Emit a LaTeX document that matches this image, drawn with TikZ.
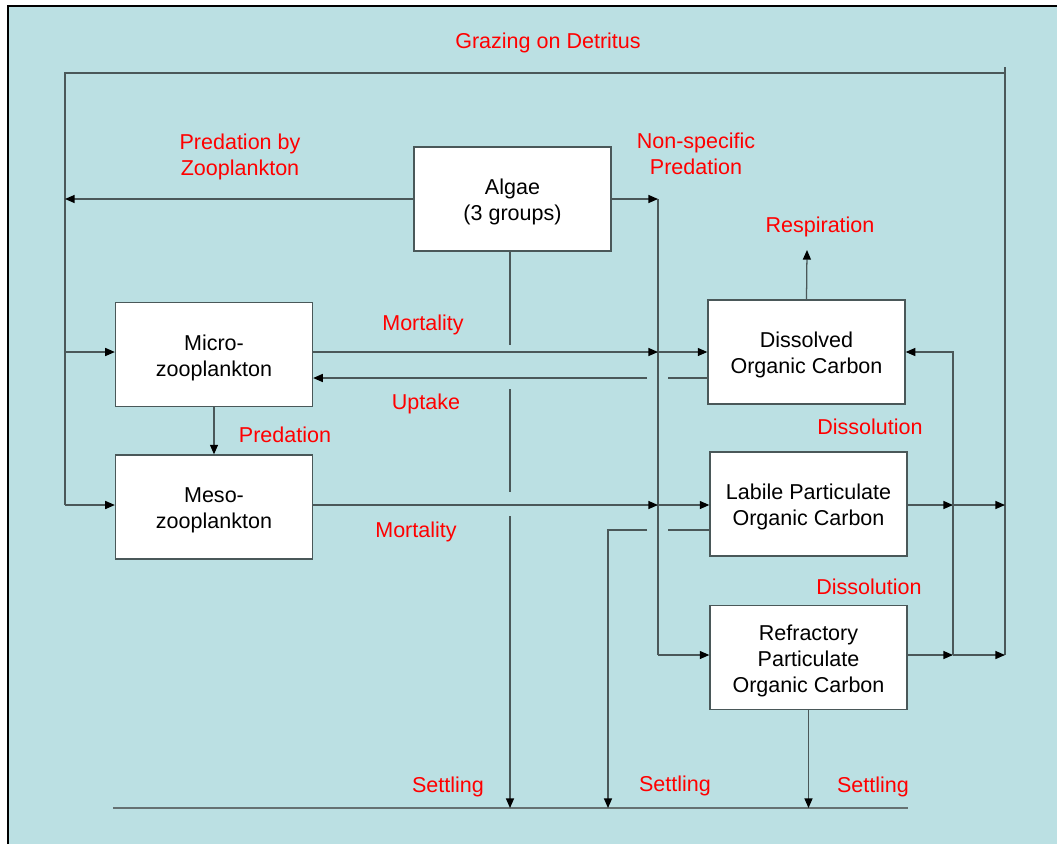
\documentclass[tikz,border=0pt]{standalone}
\usepackage{fontspec}
\setmainfont{Liberation Sans}
\usetikzlibrary{arrows.meta}

\definecolor{seablue}{HTML}{BBE0E3}
\definecolor{flowgray}{HTML}{4A5859}
\definecolor{ratered}{HTML}{FF0000}
\newcommand{\poolstrut}{\rule{0pt}{15.6pt}}

\begin{document}
\begin{tikzpicture}[x=0.025cm, y=-0.025cm,
  font=\fontsize{15.3}{18.4}\selectfont,
  >={Triangle[length=0.24cm,width=0.2cm,color=black]},
  pool/.style={draw=flowgray, fill=white, line width=0.9pt, align=center,
    minimum width=4.925cm, minimum height=2.6cm, inner sep=0pt},
  flow/.style={draw=flowgray, line width=0.9pt},
  rate/.style={text=ratered, align=center, inner sep=0pt, yshift=-2.1pt},
  bed/.style={draw=flowgray!85, line width=2pt}]
\useasboundingbox (0,0) rectangle (1057,844);
\fill[seablue] (8,6) rectangle (1057,844);
\draw[line width=1.6pt] (8,844) -- (8,6) -- (1057,6);

% pools
\node[pool] (algae) at (512.5,199) {\poolstrut Algae\\(3 groups)};
\node[pool] (micro) at (214,354.5) {\poolstrut Micro-\\zooplankton};
\node[pool] (meso) at (214,507) {\poolstrut Meso-\\zooplankton};
\node[pool] (doc) at (806.5,352) {\poolstrut Dissolved\\Organic Carbon};
\node[pool] (lpoc) at (808.5,504) {\poolstrut Labile Particulate\\Organic Carbon};
\node[pool] (rpoc) at (808.5,657.5) {\poolstrut Refractory\\Particulate\\Organic Carbon};

% junctions
\coordinate (gl) at (65,73);
\coordinate (gtop) at (1005,73);
\coordinate (gr) at (1005,67);
\coordinate (gbot) at (1005,655);
\coordinate (zm) at (65,352);
\coordinate (zl) at (65,505);
\coordinate (nsTop) at (658,199);
\coordinate (nsBot) at (658,655);
\coordinate (mm) at (658,352);
\coordinate (me) at (658,505);
\coordinate (upR) at (668,378);
\coordinate (upL) at (647,378);
\coordinate (lsR) at (668,530);
\coordinate (lsL) at (647,530);
\coordinate (lsC) at (608,530);
\coordinate (as1) at (510,345);
\coordinate (as2) at (510,389);
\coordinate (as3) at (510,492);
\coordinate (as4) at (510,516);
\coordinate (resp) at (807,250);
\coordinate (dl) at (953,505);
\coordinate (dr) at (953,655);
\coordinate (dt) at (953,352);
\coordinate (bedL) at (113,808);
\coordinate (bedR) at (908,808);

% grazing on detritus
\path[flow] (gbot) -- (gr);
\path[flow] (gtop) -- (gl) -- (zl);
\path[flow,->] (algae.west) -- (algae.west -| gl);
\path[flow,->] (zm) -- (zm -| micro.west);
\path[flow,->] (zl) -- (zl -| meso.west);
\path[flow,->] (micro.south) -- (meso.north);

% non-specific predation
\path[flow,->] (algae.east) -- (nsTop);
\path[flow] (nsTop) -- (nsBot);
\path[flow,->] (nsBot) -- (nsBot -| rpoc.west);

% mortality and uptake
\path[flow,->] (micro.east |- mm) -- (mm);
\path[flow,->] (mm) -- (mm -| doc.west);
\path[flow] (doc.west |- upR) -- (upR);
\path[flow,->] (upL) -- (upL -| micro.east);
\path[flow,->] (meso.east |- me) -- (me);
\path[flow,->] (me) -- (me -| lpoc.west);

% settling
\path[bed] (bedL) -- (bedR);
\path[flow] (as1 |- algae.south) -- (as1);
\path[flow] (as2) -- (as3);
\path[flow,->] (as4) -- (as4 |- bedL);
\path[flow] (lpoc.west |- lsR) -- (lsR);
\path[flow,->] (lsL) -- (lsC) -- (lsC |- bedL);
\path[flow,->] (rpoc.south) -- (rpoc.south |- bedL);

% respiration and dissolution
\path[flow,->] (doc.north) -- (resp);
\path[flow,->] (lpoc.east |- dl) -- (dl);
\path[flow,->] (dl) -- (dl -| gr);
\path[flow,->] (rpoc.east |- dr) -- (dr);
\path[flow,->] (dr) -- (gbot);
\path[flow,->] (dr) -- (dt) -- (dt -| doc.east);

% rates
\node[rate] (tgraze) at (548,40) {Grazing on Detritus};
\node[rate] (tpred) at (240,154) {Predation by\\Zooplankton};
\node[rate] (tnonspec) at (696,151) {Non-specific\\Predation};
\node[rate] (tresp) at (820,224) {Respiration};
\node[rate] (tmort1) at (423,322) {Mortality};
\node[rate] (tupt) at (426,401) {Uptake};
\node[rate] (tpredm) at (285,432) {Predation};
\node[rate] (tmort2) at (416,529) {Mortality};
\node[rate] (tdiss1) at (870,424) {Dissolution};
\node[rate] (tdiss2) at (869,584) {Dissolution};
\node[rate] (tset1) at (448,784) {Settling};
\node[rate] (tset2) at (675,783) {Settling};
\node[rate] (tset3) at (873,784) {Settling};
\end{tikzpicture}
\end{document}
